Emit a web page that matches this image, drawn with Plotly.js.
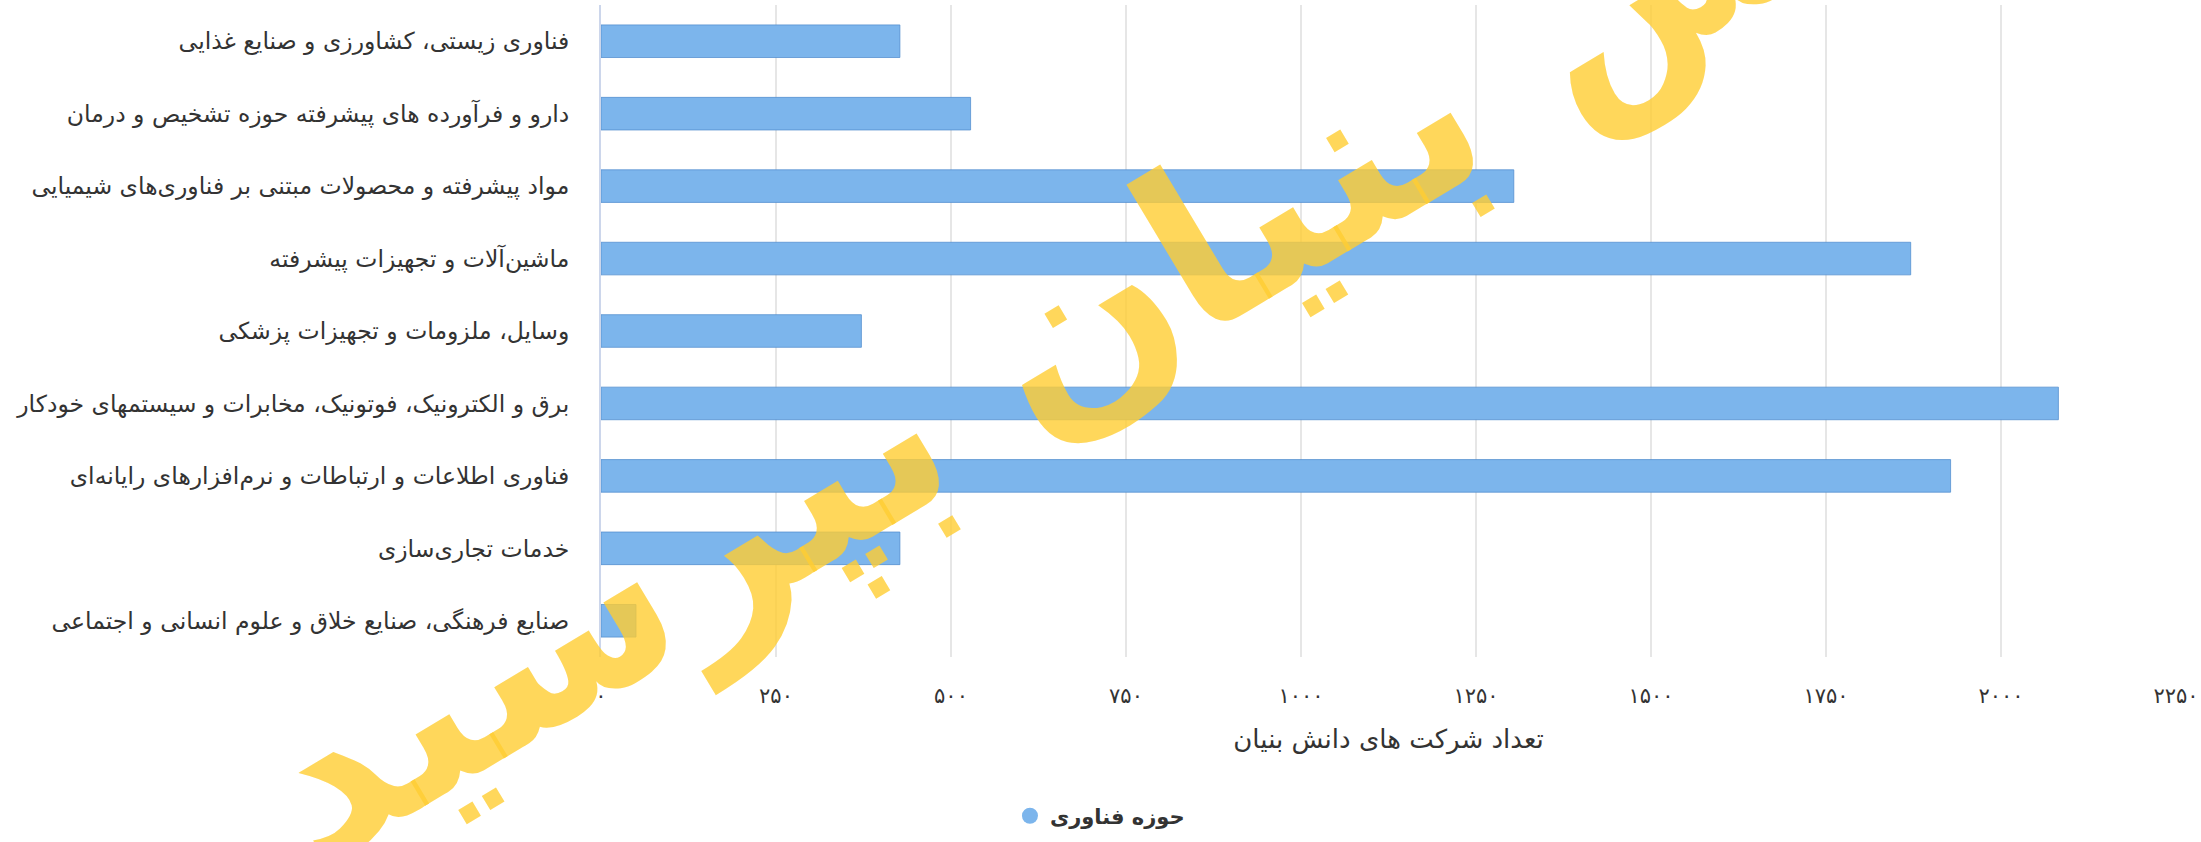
<!DOCTYPE html>
<html>
<head>
<meta charset="utf-8">
<script src="https://cdn.plot.ly/plotly-3.0.1.min.js"></script>
<style>
html,body{margin:0;padding:0;background:#fff;}
#chart{width:2201px;height:842px;}
</style>
</head>
<body>
<div id="chart"></div>
<script>
const categories = [
  "فناوری زیستی، کشاورزی و صنایع غذایی",
  "دارو و فرآورده های پیشرفته حوزه تشخیص و درمان",
  "مواد پیشرفته و محصولات مبتنی بر فناوری‌های شیمیایی",
  "ماشین‌آلات و تجهیزات پیشرفته",
  "وسایل، ملزومات و تجهیزات پزشکی",
  "برق و الکترونیک، فوتونیک، مخابرات و سیستمهای خودکار",
  "فناوری اطلاعات و ارتباطات و نرم‌افزارهای رایانه‌ای",
  "خدمات تجاری‌سازی",
  "صنایع فرهنگی، صنایع خلاق و علوم انسانی و اجتماعی"
];
const companyCounts = [427, 528, 1304, 1871, 372, 2082, 1928, 427, 50];
const seriesName = "حوزه فناوری";
const xTickVals = [0, 250, 500, 750, 1000, 1250, 1500, 1750, 2000, 2250];
const xTickText = ["۰", "۲۵۰", "۵۰۰", "۷۵۰", "۱۰۰۰", "۱۲۵۰", "۱۵۰۰", "۱۷۵۰", "۲۰۰۰", "۲۲۵۰"];
const xTitle = "تعداد شرکت های دانش بنیان";
const watermarkText = "دانش بنیان بپرسید";

const FONT = "Tahoma, 'DejaVu Sans', sans-serif";
const BAR = "#7cb5ec";

const traces = [
  {
    type: "bar",
    orientation: "h",
    x: companyCounts,
    y: categories,
    name: seriesName,
    showlegend: false,
    marker: { color: BAR, line: { color: "rgba(80,140,205,0.75)", width: 1 } },
    hoverinfo: "x+y"
  },
  {
    type: "scatter",
    mode: "markers",
    x: [null],
    y: [null],
    name: seriesName,
    showlegend: true,
    marker: { color: BAR, size: 20, symbol: "circle" },
    hoverinfo: "skip"
  }
];

const layout = {
  width: 2201,
  height: 842,
  margin: { l: 601, r: 25, t: 5, b: 181, pad: 0 },
  paper_bgcolor: "#ffffff",
  plot_bgcolor: "#ffffff",
  bargap: 0.55,
  font: { family: FONT, color: "#333333", size: 16 },
  xaxis: {
    range: [0, 2250],
    tickmode: "array",
    tickvals: xTickVals,
    ticktext: xTickText,
    showgrid: true,
    gridcolor: "#e6e6e6",
    gridwidth: 2,
    zeroline: false,
    showline: false,
    ticks: "outside",
    ticklen: 20,
    tickcolor: "rgba(0,0,0,0)",
    tickfont: { family: FONT, size: 21, color: "#333333" },
    title: { text: xTitle, font: { family: FONT, size: 26, color: "#333333" }, standoff: 22 },
    fixedrange: true
  },
  yaxis: {
    type: "category",
    autorange: "reversed",
    showgrid: false,
    zeroline: false,
    showline: true,
    linecolor: "#ccd6eb",
    linewidth: 2,
    ticks: "outside",
    ticklen: 25,
    tickcolor: "rgba(0,0,0,0)",
    tickfont: { family: FONT, size: 23.5, color: "#333333" },
    fixedrange: true
  },
  legend: {
    orientation: "h",
    x: 0.3168,
    xanchor: "center",
    y: -0.244,
    yanchor: "middle",
    font: { family: FONT, size: 21, color: "#333333", weight: "bold" },
    bgcolor: "rgba(0,0,0,0)"
  },
  annotations: [
    {
      xref: "paper",
      yref: "paper",
      x: 0.353,
      y: 0.585,
      xanchor: "center",
      yanchor: "middle",
      text: "<b>" + watermarkText + "</b>",
      showarrow: false,
      textangle: -31,
      font: { family: FONT, size: 225, color: "rgba(255,205,50,0.8)" }
    }
  ]
};

Plotly.newPlot("chart", traces, layout, { displayModeBar: false, staticPlot: true });
</script>
</body>
</html>
